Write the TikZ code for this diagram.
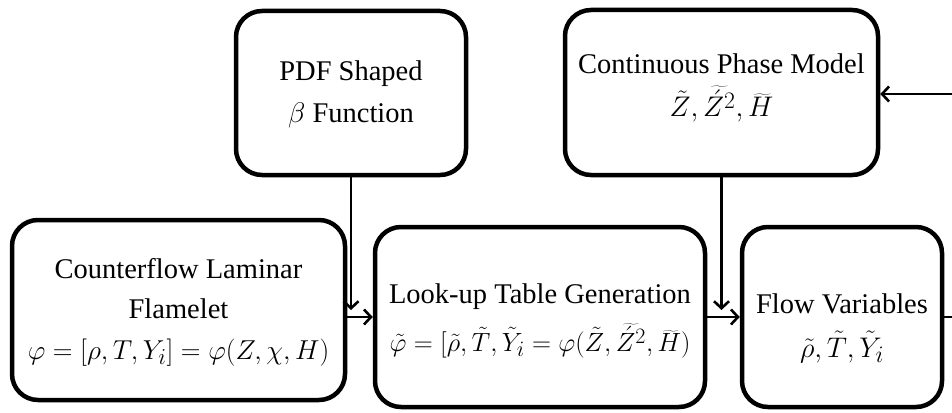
\documentclass[tikz,border=0pt]{standalone}
\usepackage{fontspec}
\setmainfont{Liberation Serif}
\usetikzlibrary{arrows.meta}
\newcommand{\mymath}[2][1.1]{\scalebox{#1}{$#2$}}
\begin{document}
\begin{tikzpicture}[x=1pt,y=-1pt,
  box/.style={draw, line width=4.5pt, rounded corners=26pt, inner sep=0pt},
  txt/.style={align=center, font=\fontsize{28.5}{40}\selectfont, inner sep=0pt},
  conn/.style={line width=2.6pt, -{Straight Barb[length=7pt,width=15pt,line width=2.6pt]}},
  plain/.style={line width=2.6pt}]
\useasboundingbox (0,0) rectangle (952,412);
\node[box, minimum width=230pt, minimum height=164pt] (pdf) at (351,93) {};
\node[box, minimum width=313pt, minimum height=165pt] (cpm) at (721.5,92.5) {};
\node[box, minimum width=333pt, minimum height=180pt] (cf) at (178.5,310) {};
\node[box, minimum width=330pt, minimum height=180pt] (lut) at (540,317) {};
\node[box, minimum width=200pt, minimum height=180pt] (flow) at (842,317) {};
\node[txt] (pdfT) at (351,94) {PDF Shaped\\[2pt] \mymath[1.14]{\beta} Function};
\node[txt] (cpmT) at (721.5,88) {Continuous Phase Model\\[3pt] \mymath[1.14]{\tilde{Z},\widetilde{\acute{Z}^{2}},\widetilde{H}}};
\node[txt] (cfT) at (178.5,312) {Counterflow Laminar\\ Flamelet\\[1pt] \mymath[1.1]{\varphi=[\rho,T,Y_i]=\varphi(Z,\chi,H)}};
\node[txt] (lutT) at (540,321) {Look-up Table Generation\\[8pt] \mymath[1.06]{\tilde{\varphi}=[\tilde{\rho},\tilde{T},\tilde{Y}_i=\varphi(\tilde{Z},\widetilde{\acute{Z}^{2}},\widetilde{H})}};
\node[txt] (flowT) at (842,328) {Flow Variables\\[4pt] \mymath[1.14]{\tilde{\rho},\tilde{T},\tilde{Y}_i}};
\coordinate (inR) at (952,94);
\coordinate (outR) at (952,317);
\draw[conn] (cf.east |- lut.west) -- (lut.west);
\draw[conn] (lut.east) -- (flow.west);
\draw[conn] (pdf.south) -- (pdf.south |- cf.east);
\draw[conn] (cpm.south) -- (cpm.south |- cf.east);
\draw[conn] (inR) -- (inR -| cpm.east);
\draw[plain] (flow.east) -- (outR);
\end{tikzpicture}
\end{document}
